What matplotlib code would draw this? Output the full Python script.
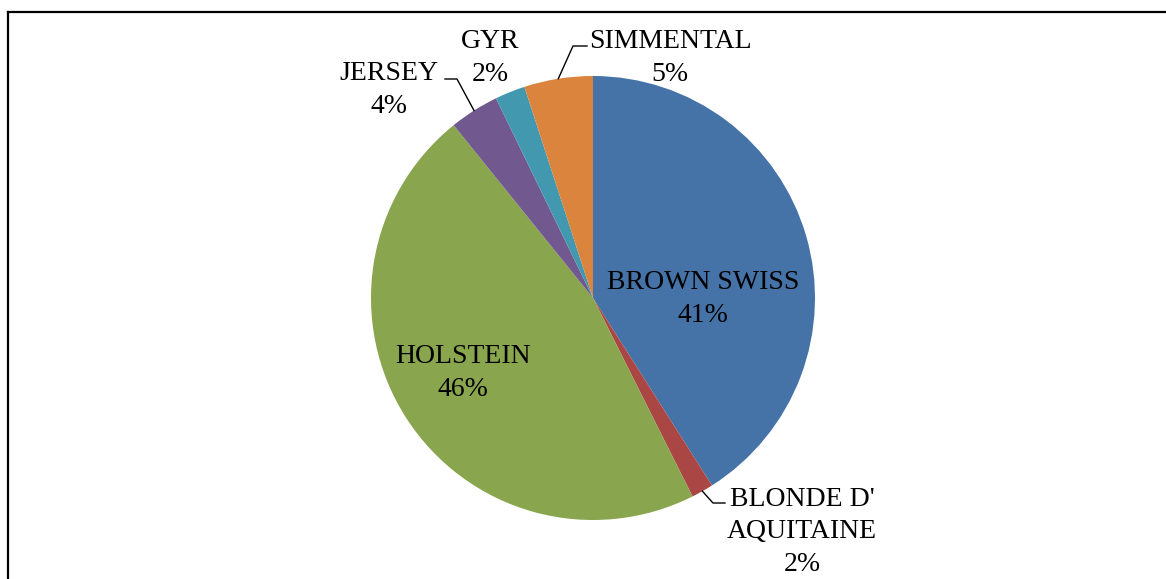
import numpy as np
import matplotlib
matplotlib.use("Agg")
import matplotlib.pyplot as plt
from matplotlib.lines import Line2D

# breed shares (percent), clockwise from 12 o'clock
breeds = ["BROWN SWISS", "BLONDE D'\nAQUITAINE", "HOLSTEIN", "JERSEY", "GYR", "SIMMENTAL"]
shares = [41.0, 1.6, 46.6, 3.6, 2.2, 5.0]
pct_labels = ["41%", "2%", "46%", "4%", "2%", "5%"]
colors = ["#4572A7", "#AA4643", "#89A54E", "#71588F", "#4198AF", "#DB843D"]

W, H = 1166, 579
CX, CY, R = 593, 298, 222  # pie centre / radius in pixels


def px(x, y):
    # pixel position -> pie data coords
    return (x - CX) / R, (CY - y) / R


plt.rcParams["font.family"] = ["Liberation Serif", "DejaVu Serif"]

fig = plt.figure(figsize=(W / 100, H / 100), dpi=100)
ax = fig.add_axes([(CX - R) / W, (H - CY - R) / H, 2 * R / W, 2 * R / H])
wedges, _ = ax.pie(shares, colors=colors, startangle=90, counterclock=False,
                   radius=1.0, wedgeprops=dict(linewidth=0))
ax.set_xlim(-1, 1)
ax.set_ylim(-1, 1)
ax.set_aspect("equal")
ax.axis("off")

fs = 20
# label block centres (pixels) and optional leader elbows
label_pos = {
    0: (703, 299),
    1: (802, 532),
    2: (463, 373),
    3: (389, 90),
    4: (490, 58),
    5: (670, 58),
}
leaders = {
    1: [(725, 503), (713, 503)],
    3: [(445, 79), (457, 79)],
    5: [(587, 46), (573, 46)],
}

for i, (name, pl) in enumerate(zip(breeds, pct_labels)):
    x, y = px(*label_pos[i])
    ax.text(x, y, f"{name}\n{pl}", ha="center", va="center", fontsize=fs,
            linespacing=1.38, color="black", clip_on=False)
    if i in leaders:
        w = wedges[i]
        mid = np.deg2rad(0.5 * (w.theta1 + w.theta2))
        ex, ey = np.cos(mid), np.sin(mid)
        pts = [px(*p) for p in leaders[i]] + [(ex, ey)]
        xs, ys = zip(*pts)
        ax.add_line(Line2D(xs, ys, color="black", lw=1.0, clip_on=False))

# chart area border (left and top edges visible)
x0 = 8 / W
y0 = 1 - 12 / H
fig.add_artist(Line2D([x0, x0], [-0.05, y0], transform=fig.transFigure, color="black", lw=1.6))
fig.add_artist(Line2D([x0, 1.05], [y0, y0], transform=fig.transFigure, color="black", lw=1.6))

fig.savefig("out.png", dpi=100)
